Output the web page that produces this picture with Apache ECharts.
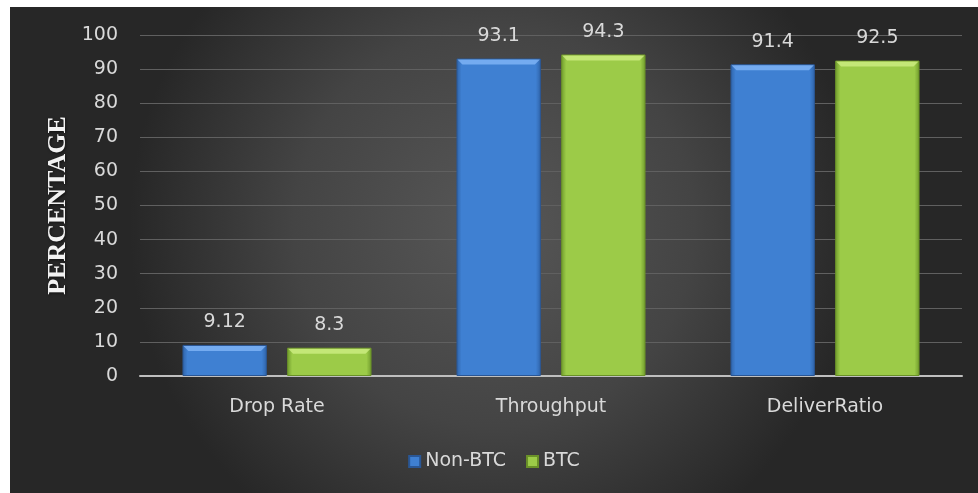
<!DOCTYPE html>
<html>
<head>
<meta charset="utf-8">
<script src="https://cdn.jsdelivr.net/npm/echarts@6/dist/echarts.min.js"></script>
<style>
  html, body { margin: 0; padding: 0; background: #ffffff; }
  #chart { position: absolute; left: 10px; top: 7px; width: 968px; height: 486px; }
</style>
</head>
<body>
<div id="chart"></div>
<script>
// Metric categories and values (percent)
const categories = ['Drop Rate', 'Throughput', 'DeliverRatio'];
const nonBtc = [9.12, 93.1, 91.4];
const btc = [8.3, 94.3, 92.5];
const yTicks = [0, 10, 20, 30, 40, 50, 60, 70, 80, 90, 100];

const FONT = 'DejaVu Sans, Verdana, sans-serif';
const chart = echarts.init(document.getElementById('chart'));

// Bevelled bar fill: darker sides, brighter centre
function barFill(edge, mid) {
  return new echarts.graphic.LinearGradient(0, 0, 1, 0, [
    { offset: 0, color: edge },
    { offset: 0.06, color: mid },
    { offset: 0.94, color: mid },
    { offset: 1, color: edge }
  ]);
}

const labelStyle = {
  show: true,
  position: 'top',
  distance: 13,
  color: '#d9d9d9',
  fontSize: 19,
  fontFamily: FONT
};

chart.setOption({
  backgroundColor: new echarts.graphic.RadialGradient(0.5, 0.45, 0.75, [
    { offset: 0, color: '#575757' },
    { offset: 0.55, color: '#444444' },
    { offset: 1, color: '#272727' }
  ]),
  animation: false,
  grid: { left: 130, right: 16, top: 28, bottom: 117 },
  legend: {
    bottom: 17,
    left: 'center',
    itemWidth: 11,
    itemHeight: 11,
    itemGap: 20,
    icon: 'rect',
    textStyle: { color: '#d9d9d9', fontSize: 19, fontFamily: FONT },
    data: ['Non-BTC', 'BTC']
  },
  xAxis: {
    type: 'category',
    data: categories,
    axisLine: { lineStyle: { color: '#bfbfbf', width: 2 } },
    axisTick: { show: false },
    axisLabel: { color: '#d9d9d9', fontSize: 19, margin: 22, fontFamily: FONT }
  },
  yAxis: {
    type: 'value',
    min: yTicks[0],
    max: yTicks[yTicks.length - 1],
    interval: 10,
    name: 'PERCENTAGE',
    nameLocation: 'middle',
    nameGap: 67,
    nameTextStyle: {
      color: '#f2f2f2',
      fontSize: 26,
      fontWeight: 'bold',
      fontFamily: 'Liberation Serif, Times New Roman, serif',
      textShadowColor: 'rgba(0,0,0,0.6)',
      textShadowBlur: 3,
      textShadowOffsetX: 1,
      textShadowOffsetY: 1
    },
    axisLine: { show: false },
    axisTick: { show: false },
    axisLabel: { color: '#d9d9d9', fontSize: 19, margin: 22, fontFamily: FONT },
    splitLine: { lineStyle: { color: '#606060', width: 1 } }
  },
  series: [
    {
      name: 'Non-BTC',
      type: 'bar',
      data: nonBtc,
      barGap: '24%',
      barCategoryGap: '31%',
      itemStyle: {
        color: barFill('#2f63a8', '#3f80d2'),
        borderColor: '#2a5796',
        borderWidth: 1
      },
      label: labelStyle
    },
    {
      name: 'BTC',
      type: 'bar',
      data: btc,
      itemStyle: {
        color: barFill('#6f9a2c', '#9ccb48'),
        borderColor: '#6a9128',
        borderWidth: 1
      },
      label: labelStyle
    }
  ]
});

// Lighter bevel strip along the top of every bar, placed from the bar layouts
function addBevels() {
  const shapes = [];
  [nonBtc, btc].forEach((vals, si) => {
    const data = chart.getModel().getSeriesByIndex(si).getData();
    vals.forEach((v, i) => {
      const l = data.getItemLayout(i);
      if (!l) return;
      const x = l.x, w = l.width;
      const yTop = Math.min(l.y, l.y + l.height);
      const h = 6;
      shapes.push({
        type: 'polygon',
        silent: true,
        z: 100,
        shape: { points: [[x + 1, yTop + 1], [x + w - 1, yTop + 1], [x + w - h, yTop + h], [x + h, yTop + h]] },
        style: { fill: si === 0 ? 'rgba(135,185,250,0.75)' : 'rgba(210,240,135,0.75)' }
      });
    });
  });
  chart.setOption({ graphic: shapes });
}
addBevels();
</script>
</body>
</html>
